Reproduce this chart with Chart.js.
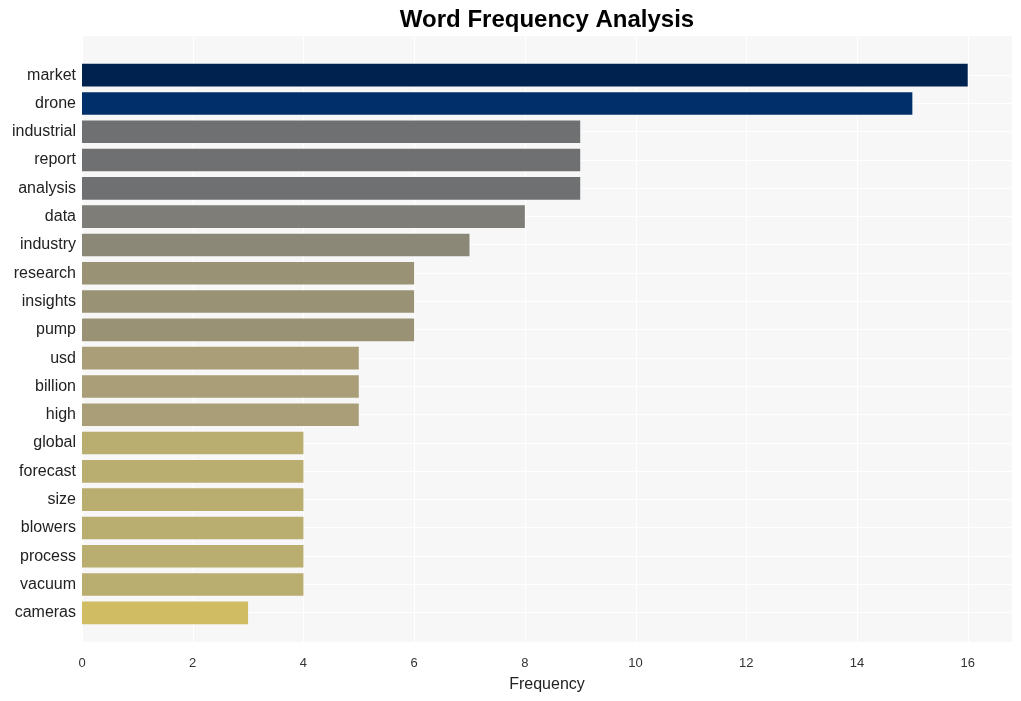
<!DOCTYPE html>
<html>
<head>
<meta charset="utf-8">
<script src="https://cdn.jsdelivr.net/npm/chart.js@4"></script>
<style>
  html, body { margin: 0; padding: 0; background: #fff; }
  #wrap { width: 1021px; height: 701px; }
</style>
</head>
<body>
<div id="wrap"><canvas id="freqChart"></canvas></div>
<script>
// word frequency data
const words  = ['market','drone','industrial','report','analysis','data','industry','research','insights','pump',
                'usd','billion','high','global','forecast','size','blowers','process','vacuum','cameras'];
const counts = [16, 15, 9, 9, 9, 8, 7, 6, 6, 6, 5, 5, 5, 4, 4, 4, 4, 4, 4, 3];
const xTicks = [0, 2, 4, 6, 8, 10, 12, 14, 16];
const chartTitle = 'Word Frequency Analysis';

const BAR_COLORS = ['#00224e','#012f69','#6f7072','#6f7072','#6f7072','#7e7d78','#8c8877','#9a9275','#9a9275','#9a9275',
                    '#a99e77','#a99e77','#a99e77','#baad70','#baad70','#baad70','#baad70','#baad70','#baad70','#cfbc63'];

const FONT = "'Liberation Sans', Arial, sans-serif";

// grey plot background that reaches a little past the bars, with vertical grid lines
const plotBg = {
  id: 'plotBg',
  beforeDraw(chart) {
    const { ctx, chartArea: a, scales } = chart;
    const top = a.top - 25, bottom = a.bottom + 15;
    ctx.save();
    ctx.fillStyle = '#f7f7f7';
    ctx.fillRect(a.left, top, a.right - a.left, bottom - top);
    ctx.strokeStyle = '#ffffff';
    ctx.lineWidth = 1;
    xTicks.forEach(v => {
      const x = Math.round(scales.x.getPixelForValue(v)) + 0.5;
      ctx.beginPath(); ctx.moveTo(x, top); ctx.lineTo(x, bottom); ctx.stroke();
    });
    ctx.restore();
  },
  // title centred over the plot, not the whole canvas
  afterDraw(chart) {
    const { ctx, chartArea: a } = chart;
    ctx.save();
    ctx.fillStyle = '#000';
    ctx.font = `bold 24px ${FONT}`;
    ctx.textAlign = 'center';
    ctx.textBaseline = 'middle';
    ctx.fillText(chartTitle, (a.left + a.right) / 2, 20);
    ctx.restore();
  },
};

new Chart(document.getElementById('freqChart').getContext('2d'), {
  type: 'bar',
  data: {
    labels: words,
    datasets: [{
      data: counts,
      backgroundColor: BAR_COLORS,
      barPercentage: 0.8,
      categoryPercentage: 1,
    }],
  },
  options: {
    indexAxis: 'y',
    responsive: true,
    maintainAspectRatio: false,
    animation: false,
    layout: { padding: { left: 0, right: 9, top: 61, bottom: 0 } },
    plugins: {
      legend: { display: false },
      tooltip: { enabled: false },
      title: { display: false },
    },
    scales: {
      x: {
        min: 0, max: 16.8,
        afterBuildTicks: s => { s.ticks = xTicks.map(v => ({ value: v })); },
        afterFit: s => { s.height = 74; },
        grid: { display: false },
        border: { display: false },
        ticks: { color: '#333', padding: 21, font: { family: FONT, size: 13 } },
        title: {
          display: true, text: 'Frequency', color: '#222',
          font: { family: FONT, size: 16 }, padding: { top: 2, bottom: 7 },
        },
      },
      y: {
        afterFit: s => { s.width = 82; },
        grid: { color: '#ffffff', offset: false, drawTicks: false },
        border: { display: false },
        ticks: { color: '#222', padding: 6, font: { family: FONT, size: 16 } },
      },
    },
  },
  plugins: [plotBg],
});
</script>
</body>
</html>
